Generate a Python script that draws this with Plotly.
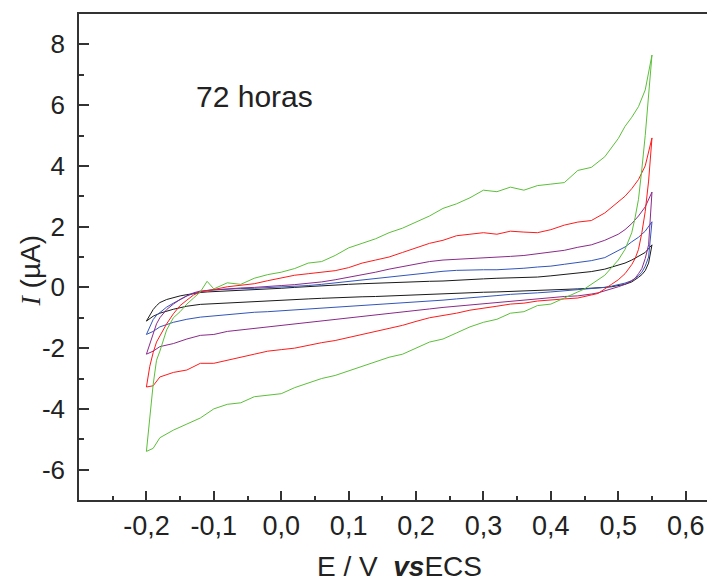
import plotly.graph_objects as go

# Potential grids (V vs ECS)
E_fwd = [-0.2, -0.195, -0.19, -0.185, -0.18, -0.17, -0.16, -0.15, -0.14, -0.13, -0.12, -0.11, -0.1,
         -0.08, -0.06, -0.04, -0.02, 0.0, 0.02, 0.04, 0.06, 0.08, 0.1, 0.12, 0.14, 0.16, 0.18, 0.2,
         0.22, 0.24, 0.26, 0.28, 0.3, 0.32, 0.34, 0.36, 0.38, 0.4, 0.42, 0.44, 0.46, 0.48, 0.5,
         0.51, 0.52, 0.53, 0.54, 0.55]
E_rev = [0.55, 0.545, 0.54, 0.535, 0.53, 0.525, 0.52, 0.51, 0.5, 0.49, 0.48, 0.47, 0.46, 0.45, 0.44,
         0.42, 0.4, 0.38, 0.36, 0.34, 0.32, 0.3, 0.28, 0.26, 0.24, 0.22, 0.2, 0.18, 0.16, 0.14, 0.12,
         0.1, 0.08, 0.06, 0.04, 0.02, 0.0, -0.02, -0.04, -0.06, -0.08, -0.1, -0.12, -0.14, -0.16,
         -0.18, -0.19, -0.2]

# Currents (uA)
green_fwd = [-5.4, -4.3, -3.2, -2.4, -2.1, -1.4, -1.0, -0.8, -0.55, -0.35, -0.15, 0.2, -0.05,
             0.15, 0.1, 0.3, 0.42, 0.5, 0.62, 0.8, 0.85, 1.05, 1.3, 1.45, 1.6, 1.8, 1.95, 2.15,
             2.35, 2.6, 2.75, 2.95, 3.2, 3.15, 3.3, 3.2, 3.35, 3.4, 3.45, 3.85, 3.95, 4.3, 4.9,
             5.3, 5.6, 5.95, 6.5, 7.65]
green_rev = [7.65, 6.2, 5.0, 3.9, 2.9, 2.3, 1.8, 1.25, 0.9, 0.65, 0.4, 0.25, 0.1, -0.05, -0.15,
             -0.35, -0.55, -0.6, -0.8, -0.85, -1.05, -1.15, -1.3, -1.5, -1.7, -1.8, -2.0, -2.2, -2.3,
             -2.45, -2.6, -2.75, -2.9, -3.0, -3.15, -3.3, -3.5, -3.55, -3.6, -3.8, -3.85, -4.0, -4.3,
             -4.5, -4.7, -4.95, -5.3, -5.4]

red_fwd = [-3.28, -2.6, -2.15, -1.8, -1.6, -1.2, -0.87, -0.6, -0.42, -0.25, -0.15, -0.1, -0.07,
           0.02, 0.08, 0.12, 0.22, 0.3, 0.4, 0.45, 0.5, 0.55, 0.65, 0.8, 0.9, 1.0, 1.15, 1.3,
           1.45, 1.55, 1.7, 1.75, 1.8, 1.75, 1.85, 1.82, 1.8, 1.9, 2.05, 2.15, 2.2, 2.45, 2.8,
           3.0, 3.25, 3.55, 4.0, 4.92]
red_rev = [4.92, 3.5, 2.5, 1.8, 1.25, 0.95, 0.75, 0.45, 0.25, 0.1, -0.05, -0.2, -0.25, -0.3, -0.35,
           -0.38, -0.42, -0.45, -0.52, -0.55, -0.62, -0.68, -0.75, -0.85, -0.92, -1.0, -1.12, -1.25,
           -1.35, -1.45, -1.55, -1.65, -1.75, -1.82, -1.92, -2.0, -2.05, -2.1, -2.2, -2.3, -2.4,
           -2.5, -2.5, -2.72, -2.8, -2.95, -3.24, -3.28]

purple_fwd = [-2.2, -1.85, -1.55, -1.2, -1.0, -0.73, -0.55, -0.4, -0.28, -0.18, -0.12, -0.1, -0.08,
              -0.05, -0.02, 0.0, 0.04, 0.06, 0.09, 0.13, 0.18, 0.25, 0.33, 0.42, 0.5, 0.6, 0.68, 0.75,
              0.85, 0.9, 0.92, 0.95, 0.97, 1.0, 1.02, 1.05, 1.1, 1.15, 1.22, 1.32, 1.4, 1.55, 1.75,
              1.9, 2.1, 2.35, 2.65, 3.14]
purple_rev = [3.14, 1.4, 0.95, 0.62, 0.45, 0.3, 0.22, 0.1, 0.02, -0.05, -0.12, -0.18, -0.22, -0.25,
              -0.28, -0.3, -0.34, -0.38, -0.42, -0.45, -0.48, -0.52, -0.57, -0.62, -0.66, -0.71,
              -0.76, -0.8, -0.85, -0.9, -0.95, -1.0, -1.05, -1.1, -1.15, -1.2, -1.27, -1.32, -1.36,
              -1.4, -1.45, -1.55, -1.58, -1.7, -1.85, -1.95, -2.1, -2.2]

blue_fwd = [-1.55, -1.3, -1.06, -0.92, -0.82, -0.65, -0.52, -0.4, -0.28, -0.2, -0.15, -0.1, -0.08,
            -0.05, -0.04, -0.03, -0.01, 0.01, 0.03, 0.06, 0.1, 0.15, 0.2, 0.25, 0.3, 0.35, 0.4, 0.45,
            0.5, 0.53, 0.56, 0.58, 0.58, 0.58, 0.6, 0.63, 0.67, 0.7, 0.76, 0.82, 0.88, 0.98, 1.2,
            1.33, 1.5, 1.65, 1.85, 2.16]
blue_rev = [2.16, 1.0, 0.7, 0.5, 0.38, 0.3, 0.22, 0.14, 0.08, 0.04, 0.0, -0.02, -0.05, -0.07, -0.09,
            -0.12, -0.15, -0.18, -0.2, -0.23, -0.27, -0.3, -0.34, -0.38, -0.42, -0.45, -0.48, -0.52,
            -0.55, -0.58, -0.6, -0.63, -0.66, -0.69, -0.72, -0.74, -0.77, -0.8, -0.82, -0.86, -0.9,
            -0.95, -0.98, -1.05, -1.15, -1.3, -1.45, -1.55]

black_fwd = [-1.11, -0.9, -0.73, -0.6, -0.5, -0.4, -0.33, -0.28, -0.24, -0.2, -0.17, -0.15, -0.14,
             -0.13, -0.11, -0.09, -0.06, -0.03, 0.0, 0.03, 0.05, 0.08, 0.1, 0.12, 0.14, 0.16, 0.18,
             0.19, 0.2, 0.21, 0.24, 0.26, 0.28, 0.3, 0.31, 0.33, 0.34, 0.38, 0.42, 0.48, 0.52, 0.6,
             0.72, 0.8, 0.9, 1.02, 1.15, 1.4]
black_rev = [1.4, 0.8, 0.55, 0.42, 0.33, 0.25, 0.18, 0.1, 0.05, 0.02, 0.0, -0.02, -0.03, -0.04, -0.05,
             -0.07, -0.08, -0.1, -0.12, -0.13, -0.15, -0.16, -0.18, -0.2, -0.22, -0.24, -0.26, -0.27,
             -0.28, -0.3, -0.31, -0.32, -0.34, -0.36, -0.38, -0.4, -0.42, -0.44, -0.46, -0.48, -0.5,
             -0.53, -0.56, -0.62, -0.72, -0.85, -0.95, -1.11]

x_tickvals = [-0.2, -0.1, 0.0, 0.1, 0.2, 0.3, 0.4, 0.5, 0.6]
x_ticktext = ["-0,2", "-0,1", "0,0", "0,1", "0,2", "0,3", "0,4", "0,5", "0,6"]
y_tickvals = [-6, -4, -2, 0, 2, 4, 6, 8]
y_ticktext = ["-6", "-4", "-2", "0", "2", "4", "6", "8"]

series = [
    ("black", black_fwd, black_rev, "#1a1a1a"),
    ("blue", blue_fwd, blue_rev, "#3355bb"),
    ("purple", purple_fwd, purple_rev, "#8a2a8a"),
    ("red", red_fwd, red_rev, "#ff1a1a"),
    ("green", green_fwd, green_rev, "#5cbf3a"),
]

fig = go.Figure()
for name, fwd, rev, col in series:
    assert len(fwd) == len(E_fwd) and len(rev) == len(E_rev), name
    fig.add_trace(go.Scatter(x=E_fwd + E_rev, y=fwd + rev, mode="lines", name=name,
                             line=dict(color=col, width=1)))

# page body has an 8px margin: figure origin sits at screen (8, 8)
OFF = 8
W, H = 707, 575
L, T = 79.3 - OFF, 14 - OFF
R = 0
B = H - (500.3 - OFF)
pw, ph = W - L - R, H - T - B

def px(xs):
    return (xs - OFF - L) / pw

def py(ys):
    return (H - B - (ys - OFF)) / ph

axis_common = dict(showline=True, linecolor="#333333", linewidth=1.5, ticks="inside",
                   tickcolor="#333333", showgrid=False, zeroline=False)

fig.update_layout(
    width=W, height=H, margin=dict(l=L, r=R, t=T, b=B, pad=0),
    plot_bgcolor="white", paper_bgcolor="white", showlegend=False,
    xaxis=dict(range=[-0.3, 0.6435], tickmode="array", tickvals=x_tickvals, ticktext=x_ticktext,
               ticklen=9, tickwidth=1.5, mirror=True,
               minor=dict(ticks="inside", ticklen=4, dtick=0.05, tick0=0, tickcolor="#333333"),
               tickfont=dict(family="Liberation Sans, Arial, sans-serif", size=27, color="#222222"),
               ticklabelstandoff=1, **axis_common),
    yaxis=dict(range=[-7, 9], tickmode="array", tickvals=y_tickvals, ticktext=y_ticktext,
               ticklen=10, tickwidth=1.5,
               minor=dict(ticks="inside", ticklen=5, dtick=1, tick0=0, tickcolor="#333333"),
               tickfont=dict(family="Liberation Sans, Arial, sans-serif", size=26, color="#222222"),
               ticklabelstandoff=7, **axis_common),
    annotations=[
        dict(text="72 horas", x=px(255), y=py(97), xref="paper", yref="paper", showarrow=False,
             xanchor="center", yanchor="middle",
             font=dict(family="Liberation Sans, Arial, sans-serif", size=30, color="#222222")),
        dict(text="<span style=\"font-family:'Liberation Serif', serif\"><i>I</i></span> (µA)",
             x=px(31), y=py(271), xref="paper", yref="paper", showarrow=False, textangle=-90,
             xanchor="center", yanchor="middle",
             font=dict(family="Liberation Sans, Arial, sans-serif", size=28, color="#222222")),
        dict(text="E / V  <b><i>vs</i></b>ECS", x=px(400), y=py(567), xref="paper", yref="paper",
             showarrow=False, xanchor="center", yanchor="middle",
             font=dict(family="Liberation Sans, Arial, sans-serif", size=28, color="#222222")),
    ],
)

fig.write_html("out.html")
